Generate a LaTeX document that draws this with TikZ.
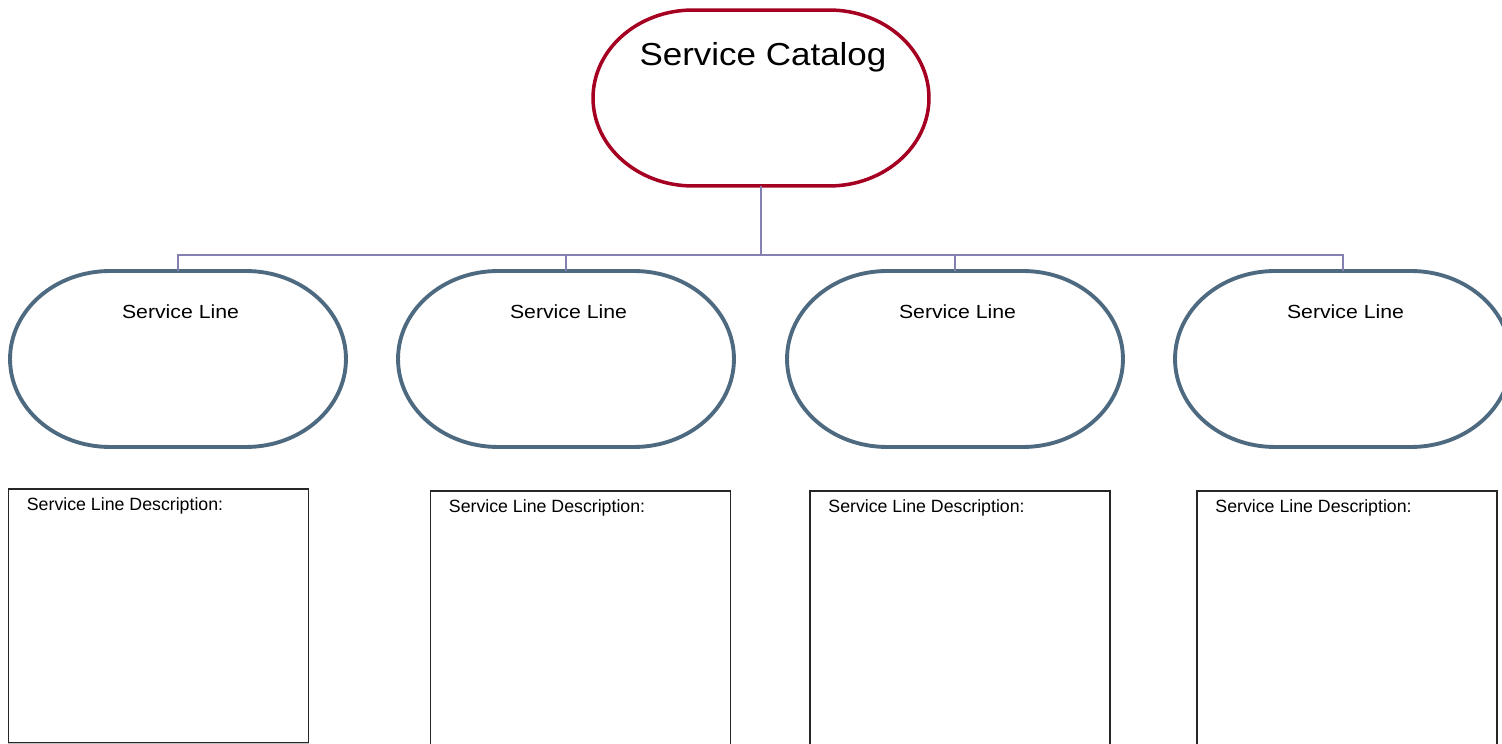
\documentclass[tikz,border=0pt]{standalone}
\usepackage{fontspec}
\usepackage{graphicx}
\setmainfont{Liberation Sans}
\definecolor{catred}{RGB}{165,0,33}
\definecolor{lineblue}{RGB}{78,106,128}
\definecolor{connline}{RGB}{132,128,176}
\begin{document}
\begin{tikzpicture}[x=0.02cm,y=0.02cm,
  shapebox/.style={minimum width=6.72cm,minimum height=3.52cm,inner sep=0pt,outer sep=0pt,draw=none},
  catline/.style={draw=catred,line width=2pt,line join=round},
  sline/.style={draw=lineblue,line width=2.2pt,line join=round},
  conn/.style={draw=connline,line width=0.8pt},
  cattext/.style={font=\fontsize{18.1}{21}\selectfont,anchor=base,inner sep=0pt},
  sltext/.style={font=\fontsize{10.8}{13}\selectfont,anchor=base,inner sep=0pt},
  desctext/.style={font=\fontsize{10.1}{12}\selectfont,anchor=base west,inner sep=0pt},
  descbox/.style={draw=black!85,line width=1.1pt,minimum width=6cm,inner sep=0pt}
]
\path[use as bounding box,clip] (0,0) rectangle (1502,744);

% rounded oval outline (flat top and bottom, elliptic ends) around a named node
\newcommand{\ovalpath}[2]{%
  \draw[#2] ([xshift=-1.36cm]#1.north) -- ([xshift=1.36cm]#1.north)
    arc[start angle=90,end angle=-90,x radius=2cm,y radius=1.76cm]
    -- ([xshift=-1.36cm]#1.south)
    arc[start angle=270,end angle=90,x radius=2cm,y radius=1.76cm] -- cycle;}

% top level
\node[shapebox] (cat) at (761,646) {};
\ovalpath{cat}{catline}
\node[cattext] (catT) at ([xshift=0.04cm,yshift=-1.12cm]cat.north) {\scalebox{1.1}[1]{Service Catalog}};

% service lines
\foreach \i/\x in {1/178,2/566,3/955,4/1343}{
  \node[shapebox] (sl\i) at (\x,385) {};
  \ovalpath{sl\i}{sline}
  \node[sltext] (sl\i T) at ([xshift=0.05cm,yshift=-0.94cm]sl\i.north) {\scalebox{1.12}[1]{Service Line}};
}

% connectors
\coordinate (bus) at (178,489);
\draw[conn] (cat.south) -- (cat.south |- bus);
\draw[conn] (sl1.north) -- (sl1.north |- bus) -- (sl4.north |- bus) -- (sl4.north);
\draw[conn] (sl2.north) -- (sl2.north |- bus);
\draw[conn] (sl3.north) -- (sl3.north |- bus);

% description boxes
\node[descbox,minimum height=5.08cm] (d1) at (158.5,128) {};
\draw[black!25,line width=1.1pt] (d1.south west) -- (d1.south east);
\node[descbox,minimum height=5.38cm] (d2) at (580.5,118.5) {};
\node[descbox,minimum height=5.38cm] (d3) at (960,118.5) {};
\node[descbox,minimum height=5.38cm] (d4) at (1347,118.5) {};
\foreach \i in {1,2,3,4}{
  \node[desctext] (d\i T) at ([xshift=0.38cm,yshift=-0.45cm]d\i.north west) {Service Line Description:};
}
\end{tikzpicture}
\end{document}
